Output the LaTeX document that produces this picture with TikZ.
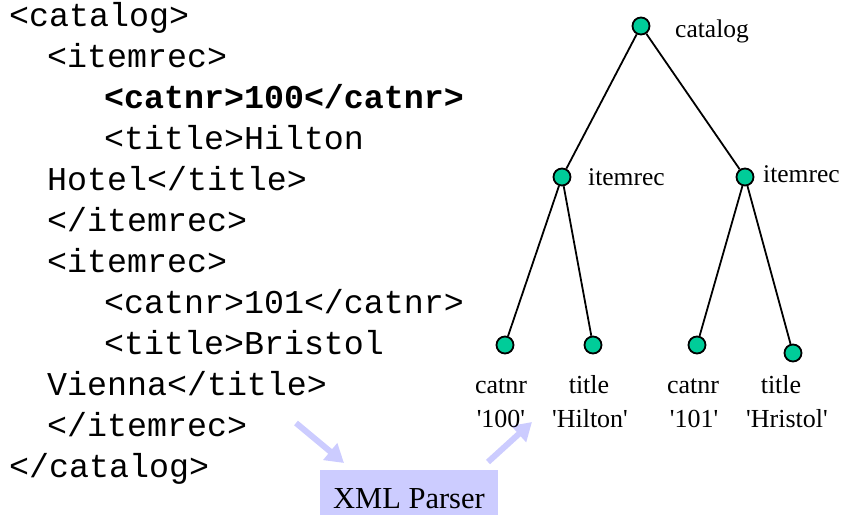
\documentclass[tikz,border=0pt]{standalone}
\usepackage{fontspec}
\usetikzlibrary{arrows.meta}
\newfontfamily\codefont{Liberation Mono}
\newfontfamily\treefont{Liberation Serif}
\definecolor{nodegreen}{RGB}{0,204,153}
\definecolor{parserblue}{RGB}{204,204,255}

\tikzset{
  elem/.style={circle, draw, line width=1.8pt, fill=nodegreen, minimum size=17pt, inner sep=0pt},
  elemname/.style={font=\treefont\fontsize{25.5}{30}\selectfont, inner sep=0pt, anchor=base west},
  leafname/.style={font=\treefont\fontsize{26}{30}\selectfont, inner sep=0pt, anchor=base},
  codeline/.style={font=\codefont\fontsize{33.3}{40}\selectfont, inner sep=0pt, anchor=base west},
  parserbox/.style={fill=parserblue, font=\treefont\fontsize{30.5}{36}\selectfont, inner sep=0pt,
    minimum width=178pt, text height=38pt, text depth=7pt, anchor=base},
  flow/.style={draw=parserblue, line width=6pt, -{Triangle[length=18pt,width=21pt]}}
}

\begin{document}
\begin{tikzpicture}[x=1pt, y=-1pt]
    \useasboundingbox (0,0) rectangle (844,515);

    % xml source
    \node[codeline] (code1)  at (9,26)   {<catalog>};
    \node[codeline] (code2)  at (47,67)  {<itemrec>};
    \node[codeline] (code3)  at (104,108) {\bfseries <catnr>100</catnr>};
    \node[codeline] (code4)  at (104,149) {<title>Hilton};
    \node[codeline] (code5)  at (47,190) {Hotel</title>};
    \node[codeline] (code6)  at (47,231) {</itemrec>};
    \node[codeline] (code7)  at (47,272) {<itemrec>};
    \node[codeline] (code8)  at (104,313) {<catnr>101</catnr>};
    \node[codeline] (code9)  at (104,354) {<title>Bristol};
    \node[codeline] (code10) at (47,395) {Vienna</title>};
    \node[codeline] (code11) at (47,436) {</itemrec>};
    \node[codeline] (code12) at (9,477)  {</catalog>};

    % parser
    \node[parserbox] (parser) at (409,508) {XML Parser};
    \coordinate (srcout) at (296,423);
    \coordinate (parserin) at (344,463);
    \coordinate (parserout) at (488,462);
    \coordinate (treein) at (532,422);
    \draw[flow] (srcout) -- (parserin);
    \draw[flow] (parserout) -- (treein);

    % tree
    \node[elem] (catalog) at (641,26)  {};
    \node[elem] (itemA)   at (562,177) {};
    \node[elem] (itemB)   at (745,177) {};
    \node[elem] (catnrA)  at (505,345) {};
    \node[elem] (titleA)  at (593,345) {};
    \node[elem] (catnrB)  at (697,345) {};
    \node[elem] (titleB)  at (793,353) {};

    \draw[line width=1.8pt] (catalog) -- (itemA);
    \draw[line width=1.8pt] (catalog) -- (itemB);
    \draw[line width=1.8pt] (itemA) -- (catnrA);
    \draw[line width=1.8pt] (itemA) -- (titleA);
    \draw[line width=1.8pt] (itemB) -- (catnrB);
    \draw[line width=1.8pt] (itemB) -- (titleB);

    \node[elemname] (catalogname) at (675,37)  {catalog};
    \node[elemname] (itemAname)   at (588,185) {itemrec};
    \node[elemname] (itemBname)   at (763,182) {itemrec};

    \node[leafname] (catnrAname) at (501,393) {catnr};
    \node[leafname] (catnrAval)  at (501,427) {'100'};
    \node[leafname] (titleAname) at (589,393) {title};
    \node[leafname] (titleAval)  at (590,427) {'Hilton'};
    \node[leafname] (catnrBname) at (693,393) {catnr};
    \node[leafname] (catnrBval)  at (694,427) {'101'};
    \node[leafname] (titleBname) at (781,393) {title};
    \node[leafname] (titleBval)  at (787,427) {'Hristol'};
\end{tikzpicture}
\end{document}
